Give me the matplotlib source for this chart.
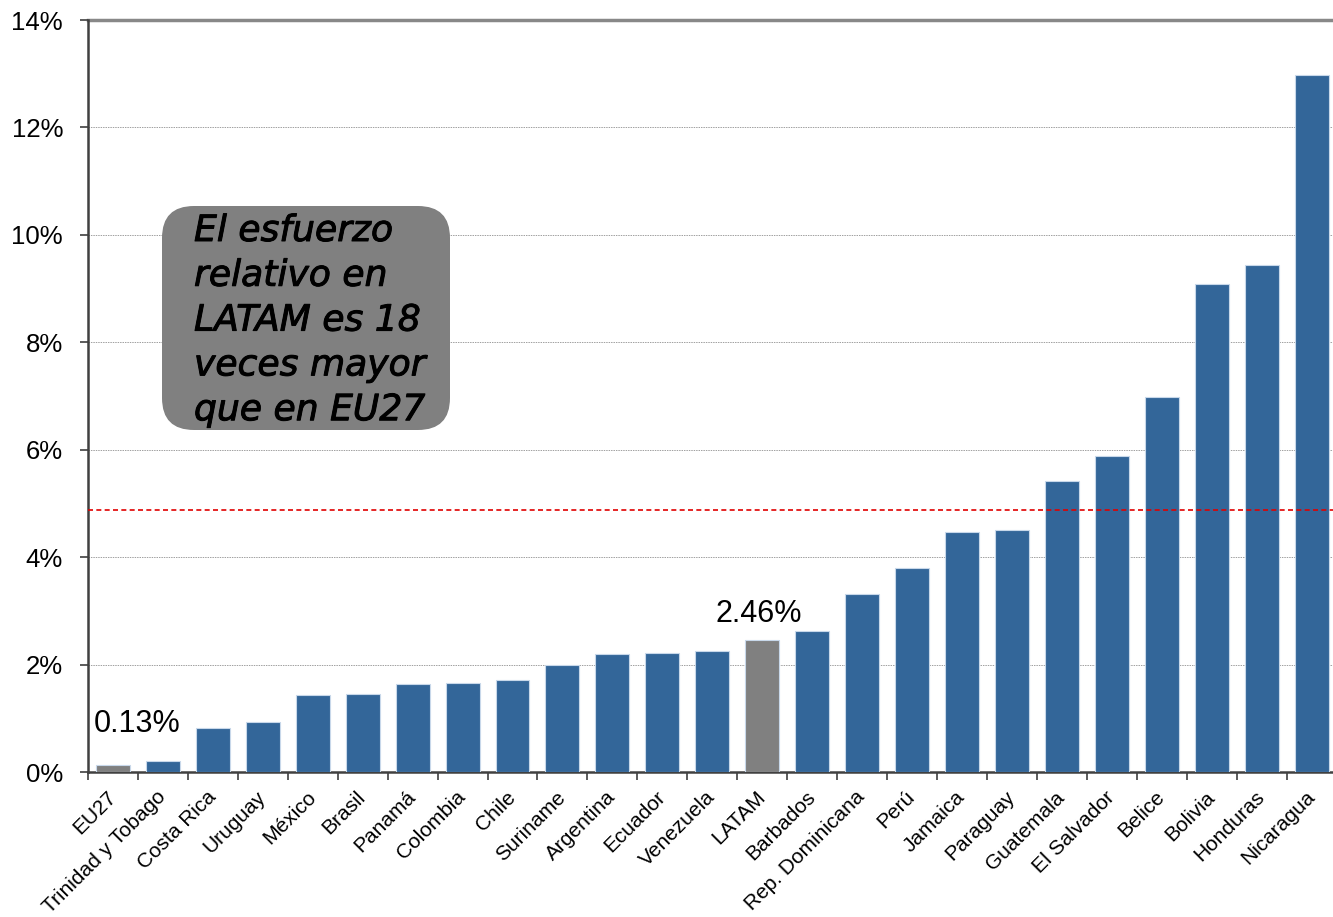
import matplotlib
matplotlib.use("Agg")
import matplotlib.pyplot as plt
from matplotlib.patches import FancyBboxPatch
import matplotlib.patheffects as pe

countries = ["EU27", "Trinidad y Tobago", "Costa Rica", "Uruguay", "México", "Brasil",
             "Panamá", "Colombia", "Chile", "Suriname", "Argentina", "Ecuador",
             "Venezuela", "LATAM", "Barbados", "Rep. Dominicana", "Perú", "Jamaica",
             "Paraguay", "Guatemala", "El Salvador", "Belice", "Bolivia", "Honduras",
             "Nicaragua"]
values = [0.13, 0.20, 0.82, 0.93, 1.43, 1.45, 1.64, 1.66, 1.71, 1.99, 2.20, 2.21,
          2.25, 2.46, 2.63, 3.31, 3.80, 4.47, 4.51, 5.42, 5.88, 6.98, 9.09, 9.44, 12.98]
highlight = ["EU27", "LATAM"]
reference_line = 4.88
yticks = [0, 2, 4, 6, 8, 10, 12, 14]
box_text = "El esfuerzo\nrelativo en\nLATAM es 18\nveces mayor\nque en EU27"

blue = "#336699"
grey = "#808080"

plt.rcParams['font.family'] = ['Liberation Sans', 'DejaVu Sans']

fig = plt.figure(figsize=(13.33, 9.17), dpi=100)
ax = fig.add_axes([88/1333, 1 - 772/917, (1333-88)/1333, (772-20)/917])

x = list(range(len(countries)))
colors = [grey if c in highlight else blue for c in countries]
ax.bar(x, values, width=0.68, color=colors, edgecolor="#c8d8ea", linewidth=0.8, zorder=3)

ax.set_xlim(-0.5, 24.43)
ax.set_ylim(0, 14)

ax.set_yticks(yticks)
ax.set_yticklabels([f"{v}%" for v in yticks], fontsize=18.5)
for v in yticks[1:-1]:
    ax.axhline(v, color="#a0a0a0", linestyle=(0, (1.5, 1)), linewidth=0.7, zorder=1)
ax.axhline(14, color="#888888", linewidth=2.5, zorder=1, clip_on=False)

ax.axhline(reference_line, color="#e00000", linestyle=(0, (3, 2)), linewidth=1.2, zorder=4)

# x ticks at boundaries, labels at centers
ax.set_xticks([i - 0.5 for i in range(len(countries))])
ax.set_xticklabels([])
ax.set_xticks(x, minor=True)
ax.set_xticklabels(countries, minor=True, rotation=45, ha="right", va="center",
                   rotation_mode="anchor", fontsize=15)
ax.tick_params(axis="x", which="minor", length=0, pad=16)
ax.tick_params(axis="x", which="major", length=6, width=1.2, color="#404040", direction="out")
ax.tick_params(axis="y", length=6, width=1.2, color="#404040", direction="out", pad=12)

for s in ["top", "right"]:
    ax.spines[s].set_visible(False)
for s in ["left", "bottom"]:
    ax.spines[s].set_color("#404040")
    ax.spines[s].set_linewidth(1.8)

ax.text(0.48, 0.89, "0.13%", ha="center", va="center", fontsize=22, zorder=5)
ax.text(12.93, 2.94, "2.46%", ha="center", va="center", fontsize=22, zorder=5)

box = FancyBboxPatch((162/1333, 1 - 430/917), (450-162)/1333, (430-206)/917,
                     boxstyle="round,pad=0,rounding_size=0.024",
                     mutation_aspect=1333/917,
                     transform=fig.transFigure, facecolor=grey, edgecolor="none", zorder=6)
fig.patches.append(box)
fig.text(194/1333, 1 - 214/917, box_text, ha="left", va="top", fontsize=26,
         family="DejaVu Sans", style="italic", linespacing=1.4, color="black", zorder=7,
         path_effects=[pe.withStroke(linewidth=0.7, foreground="black")])

fig.savefig("out.png", dpi=100)
